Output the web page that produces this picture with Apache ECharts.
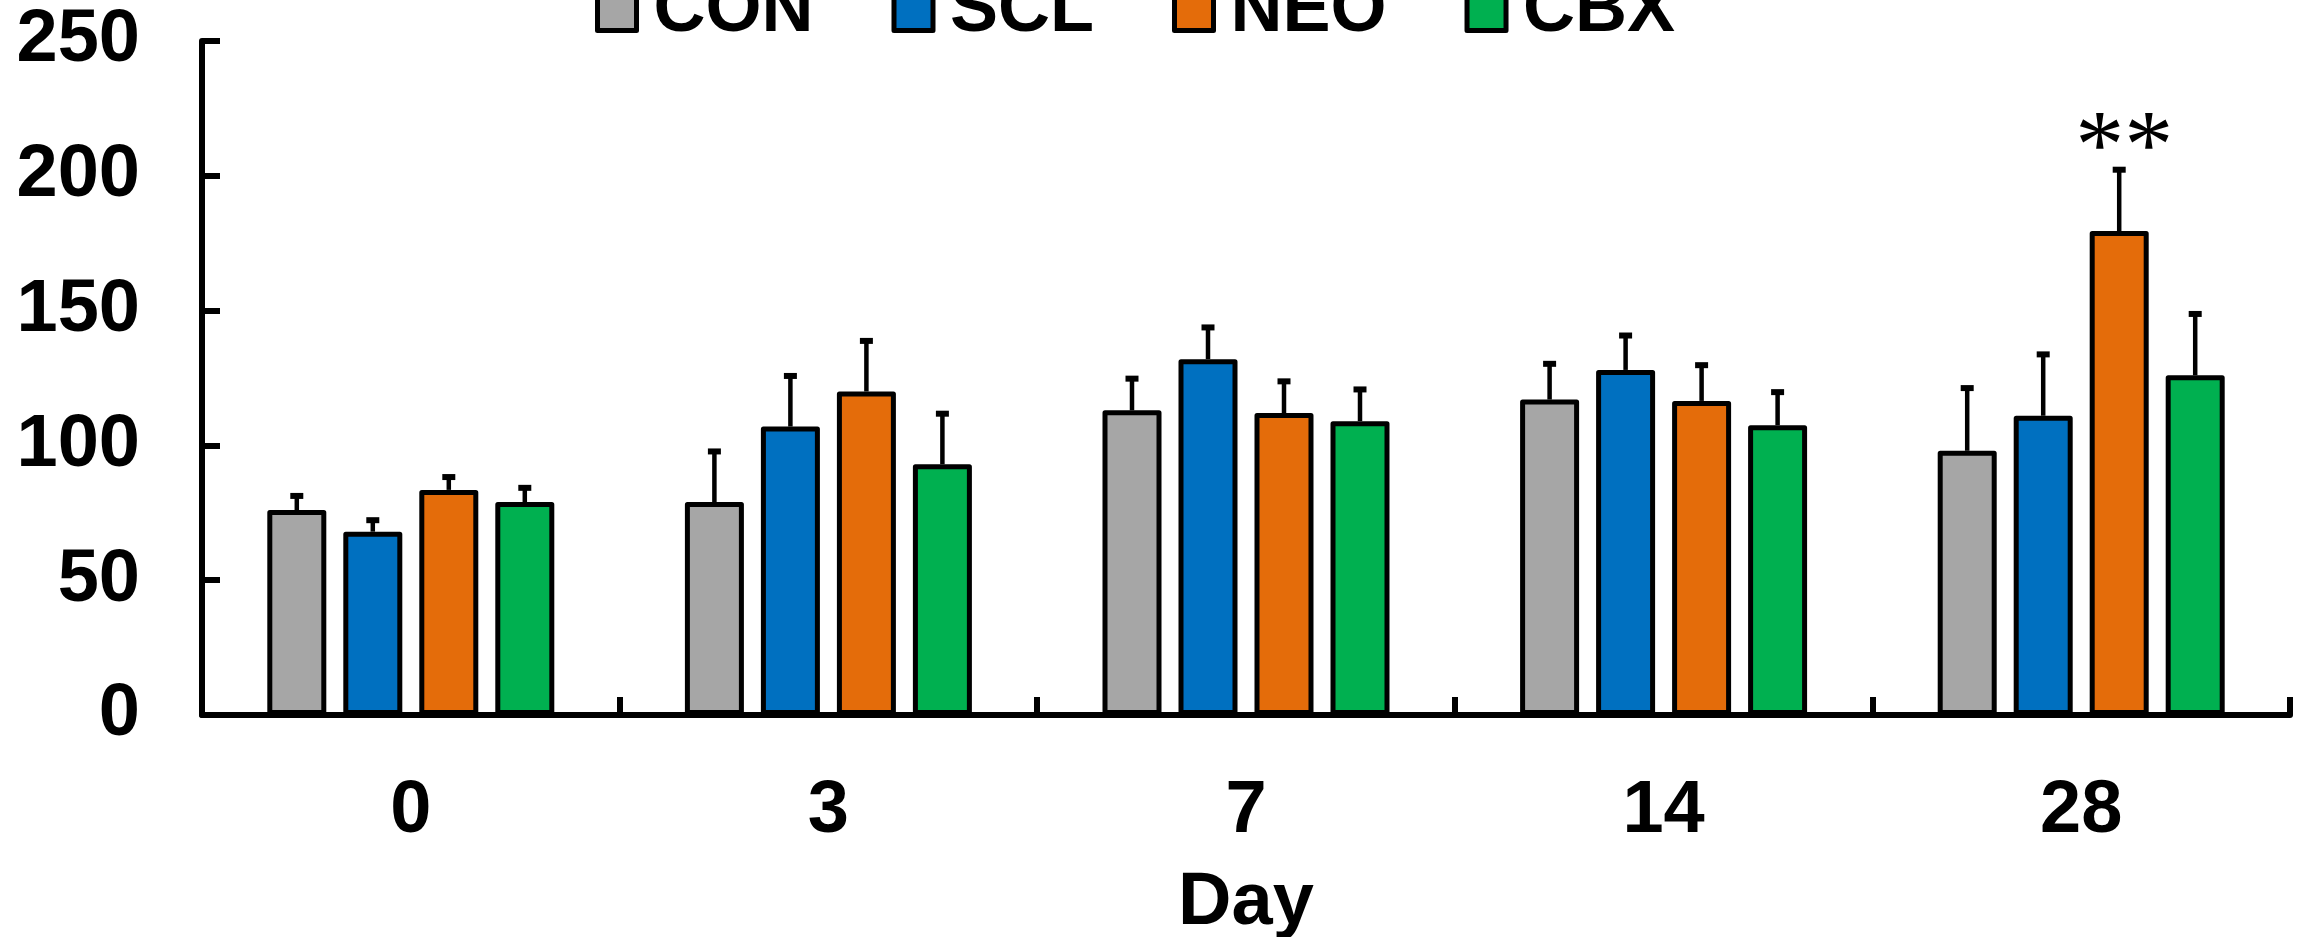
<!DOCTYPE html>
<html>
<head>
<meta charset="utf-8">
<script src="https://cdn.jsdelivr.net/npm/echarts@6/dist/echarts.min.js"></script>
<style>
html,body{margin:0;padding:0;background:#fff;}
#chart{width:2303px;height:937px;}
</style>
</head>
<body>
<div id="chart"></div>
<script>
const categories = ['0', '3', '7', '14', '28'];
const seriesNames = ['CON', 'SCL', 'NEO', 'CBX'];
const conValues = [76, 79, 113, 117, 98];
const sclValues = [68, 107, 132, 128, 111];
const neoValues = [83.5, 120, 112, 116.5, 179.5];
const cbxValues = [79, 93, 109, 107.5, 126];
const conErr = [6, 19.5, 12.5, 14, 24];
const sclErr = [5, 19.5, 12.5, 13.5, 23.5];
const neoErr = [5.5, 19.5, 12.5, 14, 23.5];
const cbxErr = [6, 19.5, 12.5, 13, 23.5];
const conSig = ['', '', '', '', ''];
const sclSig = ['', '', '', '', ''];
const neoSig = ['', '', '', '', '**'];
const cbxSig = ['', '', '', '', ''];
const yTicks = [0, 50, 100, 150, 200, 250];

const colors = ['#A6A6A6', '#0070C0', '#E46C0A', '#00B050'];
const allValues = [conValues, sclValues, neoValues, cbxValues];
const allErr = [conErr, sclErr, neoErr, cbxErr];
const allSig = [conSig, sclSig, neoSig, cbxSig];

const BAR_W = 59;
const GAP_PX = 17;
const PITCH = BAR_W + GAP_PX;
const FONT = '"Liberation Sans", Arial, sans-serif';
const AXIS_FS = 74;

const barSeries = seriesNames.map((name, i) => ({
  name: name,
  type: 'bar',
  data: allValues[i],
  barWidth: BAR_W,
  barGap: (GAP_PX / BAR_W * 100).toFixed(2) + '%',
  itemStyle: { color: colors[i], borderColor: '#000', borderWidth: 5, borderJoin: 'round' },
  emphasis: { disabled: true },
  z: 2
}));

const errData = [];
for (let s = 0; s < 4; s++) {
  for (let c = 0; c < categories.length; c++) {
    errData.push([c, allValues[s][c], allErr[s][c], s]);
  }
}

const errSeries = {
  type: 'custom',
  name: 'err',
  data: errData,
  encode: { x: 0, y: 1 },
  clip: false,
  z: 3,
  silent: true,
  renderItem: function (params, api) {
    const c = api.value(0), v = api.value(1), e = api.value(2), s = api.value(3);
    const base = api.coord([c, v]);
    const top = api.coord([c, v + e]);
    const x = base[0] + (s - 1.5) * PITCH;
    const children = [
      { type: 'line', shape: { x1: x, y1: base[1], x2: x, y2: top[1] + 2 }, style: { stroke: '#000', lineWidth: 4.5 } },
      { type: 'rect', shape: { x: x - 6.5, y: top[1] - 1, width: 13, height: 6 }, style: { fill: '#000' } }
    ];
    const sig = allSig[s][c];
    if (sig) {
      children.push({
        type: 'text',
        style: {
          text: sig, x: x + 5, y: top[1] - 16,
          align: 'center', verticalAlign: 'middle',
          fontSize: 98, fontFamily: '"Liberation Serif", "Times New Roman", serif',
          fill: '#000'
        }
      });
    }
    return { type: 'group', children: children };
  }
};

const chart = echarts.init(document.getElementById('chart'), null, { renderer: 'canvas' });
chart.setOption({
  animation: false,
  backgroundColor: '#fff',
  legend: {
    data: seriesNames,
    left: 590,
    top: -30,
    itemWidth: 39,
    itemHeight: 39,
    itemGap: 78,
    icon: 'rect',
    itemStyle: { borderColor: '#000', borderWidth: 5 },
    textStyle: { fontSize: 72, fontWeight: 'bold', fontFamily: FONT, color: '#000', lineHeight: 72, padding: [0, 0, 0, 12] },
    selectedMode: false
  },
  grid: { left: 202, right: 13, top: 41, bottom: 222, containLabel: false, outerBoundsMode: 'none' },
  xAxis: {
    type: 'category',
    data: categories,
    name: 'Day',
    nameLocation: 'middle',
    nameGap: 152,
    nameTextStyle: { fontSize: AXIS_FS, fontWeight: 'bold', fontFamily: FONT, color: '#000', lineHeight: AXIS_FS },
    axisLine: { lineStyle: { color: '#000', width: 6 } },
    axisTick: { show: true, inside: true, length: 18, lineStyle: { color: '#000', width: 6 } },
    axisLabel: { fontSize: AXIS_FS, fontWeight: 'bold', fontFamily: FONT, color: '#000', margin: 60, lineHeight: AXIS_FS },
    splitLine: { show: false }
  },
  yAxis: {
    type: 'value',
    min: yTicks[0],
    max: yTicks[yTicks.length - 1],
    interval: yTicks[1] - yTicks[0],
    axisLine: { show: true, lineStyle: { color: '#000', width: 6 } },
    axisTick: { show: true, inside: true, length: 18, lineStyle: { color: '#000', width: 6 } },
    axisLabel: { fontSize: AXIS_FS, fontWeight: 'bold', fontFamily: FONT, color: '#000', margin: 62 },
    splitLine: { show: false }
  },
  series: barSeries.concat([errSeries])
});
</script>
</body>
</html>
